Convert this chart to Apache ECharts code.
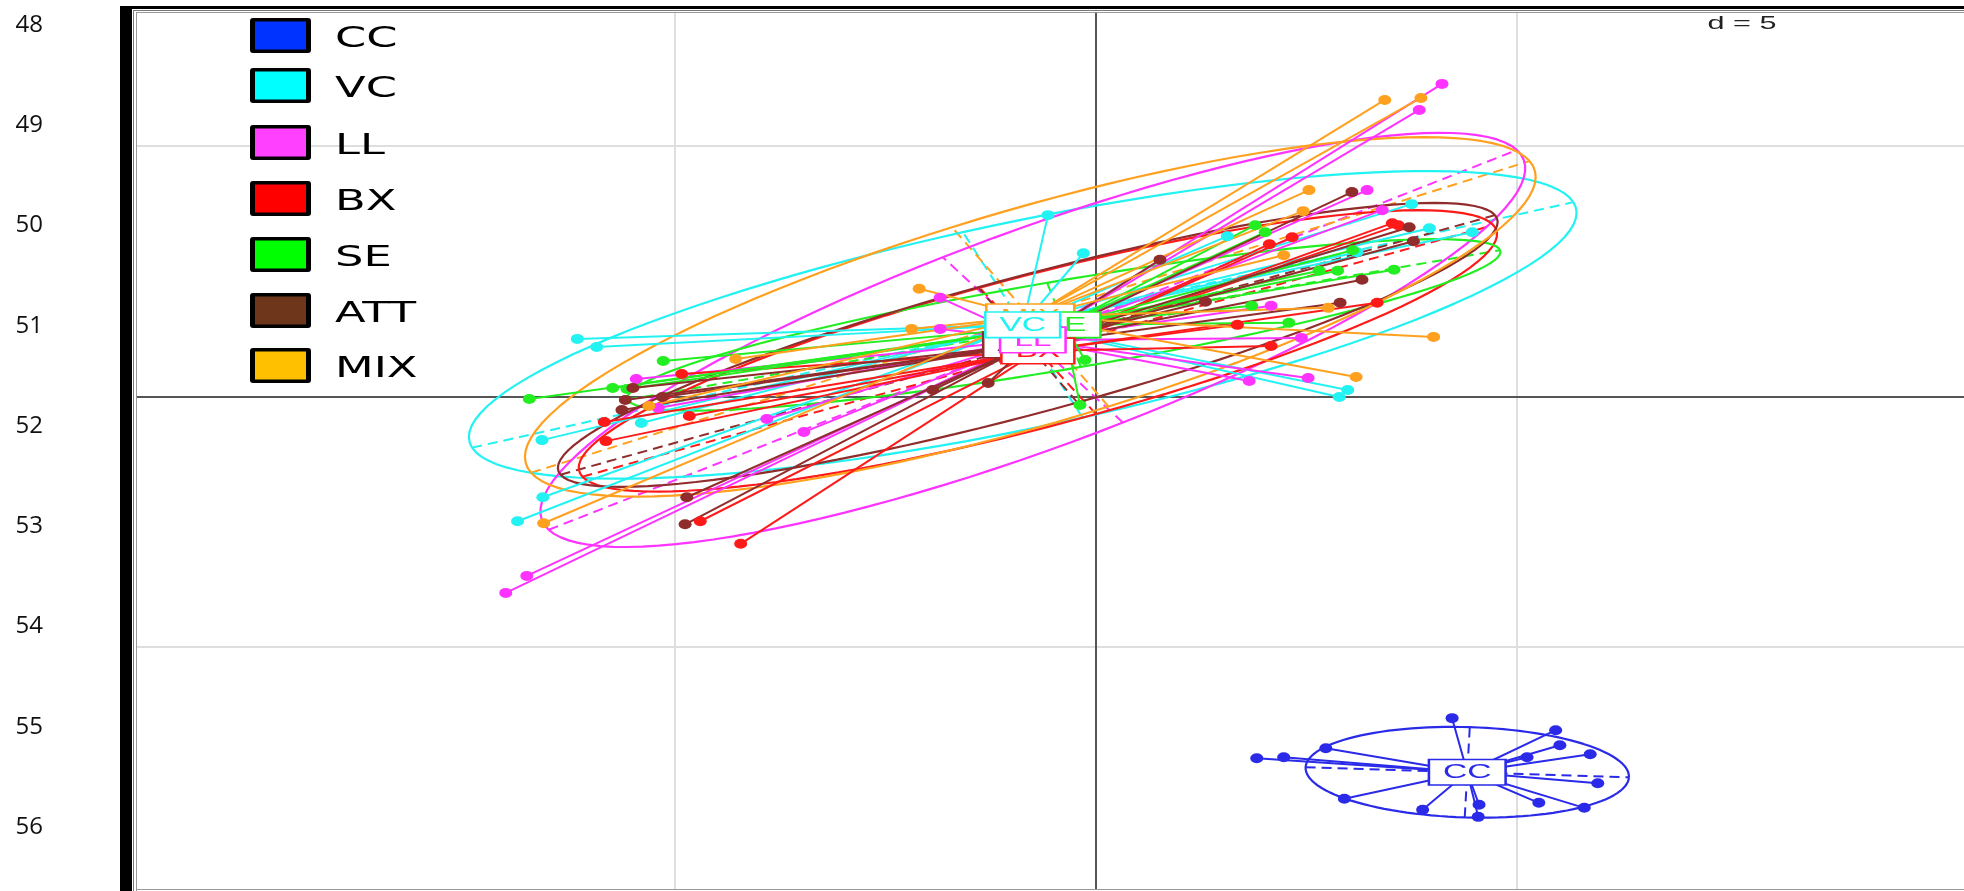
<!DOCTYPE html>
<html>
<head>
<meta charset="utf-8">
<script src="https://cdn.jsdelivr.net/npm/echarts@6/dist/echarts.min.js"></script>
<style>
  html, body { margin: 0; padding: 0; background: #ffffff; }
  #chart { width: 1964px; height: 891px; }
</style>
</head>
<body>
<div id="chart"></div>
<script>
// Group names, in legend order
const groupNames = ['CC', 'VC', 'LL', 'BX', 'SE', 'ATT', 'MIX'];
const legendColors = ['#0033ff', '#00ffff', '#ff40ff', '#ff0000', '#00ff00', '#6e361a', '#ffc000'];
const plotColors = ['#2a2ae8', '#22f2f2', '#ff33ff', '#ff1a1a', '#22ee22', '#902c2c', '#ffa01e'];

// Individual scores on the two factorial axes, one list per group
const ccPts = [[1.91,-7.22],[2.23,-7.20],[2.73,-7.02],[2.95,-8.03],[3.88,-8.25],[4.23,-6.42],[4.55,-8.15],[4.54,-8.39],[5.12,-7.20],[5.46,-6.66],[5.51,-6.96],[5.87,-7.14],[5.96,-7.72],[5.26,-8.11],[5.80,-8.21]];
const vcPts = [[3.75,3.84],[3.96,3.36],[4.47,3.28],[1.56,3.20],[3.10,2.88],[2.99,0.13],[2.89,-0.01],[-0.57,3.62],[-0.15,2.86],[-6.16,1.15],[-5.93,0.99],[-5.40,-0.53],[-6.58,-0.87],[-6.57,-2.01],[-6.87,-2.49]];
const llPts = [[4.11,6.24],[3.84,5.72],[3.22,4.12],[3.40,3.72],[2.08,1.81],[2.44,1.17],[1.82,0.31],[2.52,0.37],[-1.85,1.97],[-1.85,1.35],[-5.46,0.35],[-5.20,-0.23],[-3.91,-0.45],[-3.47,-0.71],[-6.76,-3.58],[-7.01,-3.92]];
const bxPts = [[3.52,3.46],[3.59,3.42],[2.06,3.04],[2.33,3.18],[3.34,1.87],[1.68,1.43],[2.08,1.01],[-4.92,0.45],[-4.83,-0.39],[-5.84,-0.51],[-5.82,-0.89],[-4.70,-2.49],[-4.22,-2.94]];
const sePts = [[1.89,3.42],[2.01,3.28],[3.05,2.92],[2.65,2.51],[2.87,2.51],[3.54,2.53],[1.85,1.81],[2.29,1.47],[-0.13,0.73],[-0.19,-0.17],[-5.14,0.71],[-5.74,0.17],[-5.57,0.15],[-6.73,-0.05]];
const attPts = [[3.04,4.08],[3.72,3.38],[3.77,3.10],[3.16,2.33],[2.90,1.87],[1.30,1.89],[0.76,2.73],[-1.94,0.13],[-1.28,0.27],[-5.50,0.17],[-5.59,-0.07],[-5.15,-0.01],[-5.63,-0.27],[-4.86,-2.01],[-4.88,-2.55]];
const mixPts = [[3.43,5.92],[3.86,5.96],[2.53,4.12],[2.46,3.70],[2.23,2.82],[2.76,1.77],[4.01,1.19],[3.09,0.39],[-2.10,2.15],[-2.19,1.35],[-4.28,0.75],[-5.31,-0.19],[-6.56,-2.53]];
const groupPoints = [ccPts, vcPts, llPts, bxPts, sePts, attPts, mixPts];

// Group centres (class means)
const centers = [[4.41,-7.50],[-0.87,1.43],[-0.75,1.13],[-0.69,0.91],[-0.38,1.43],[-0.81,1.03],[-0.78,1.59]];
// Ends of the first and second ellipse axes
const axis1Ends = [[6.33,-7.60],[5.67,3.88],[5.00,4.92],[4.72,3.42],[4.80,2.92],[4.74,3.62],[5.15,4.70]];
const axis2Ends = [[4.44,-6.60],[-1.58,3.28],[-1.82,2.78],[-1.38,2.17],[-0.58,2.27],[-1.40,2.18],[-1.71,3.38]];

// Grid positions of the factorial map (d = 5)
const gridTicks = [-5, 0, 5];
const gridStep = 5;
// Side scale
const sideTicks = [48, 49, 50, 51, 52, 53, 54, 55, 56];

const X_MIN = -11.39, X_MAX = 10.31, Y_MIN = -9.83, Y_MAX = 7.675;
const STRETCH = 1.6;
// vertical placement of the legend rows
const legendTops = [18, 68, 125, 181, 237, 293, 348];

function ellipsePath(c, a1, a2) {
  const u = [a1[0] - c[0], a1[1] - c[1]];
  const v = [a2[0] - c[0], a2[1] - c[1]];
  const out = [];
  for (let k = 0; k <= 120; k++) {
    const t = k / 120 * Math.PI * 2;
    out.push([c[0] + u[0] * Math.cos(t) + v[0] * Math.sin(t),
              c[1] + u[1] * Math.cos(t) + v[1] * Math.sin(t)]);
  }
  return out;
}

const series = [];

// light grid lines
series.push({
  type: 'lines', coordinateSystem: 'cartesian2d', xAxisIndex: 0, yAxisIndex: 0,
  silent: true, z: 1, polyline: false,
  lineStyle: { color: '#dedede', width: 2, opacity: 1 },
  data: gridTicks.filter(v => v !== 0).flatMap(v => [
    { coords: [[v, Y_MIN], [v, Y_MAX]] },
    { coords: [[X_MIN, v], [X_MAX, v]] }
  ])
});
// origin axes
series.push({
  type: 'lines', coordinateSystem: 'cartesian2d', xAxisIndex: 0, yAxisIndex: 0,
  silent: true, z: 2,
  lineStyle: { color: '#555555', width: 2, opacity: 1 },
  data: [{ coords: [[0, Y_MIN], [0, Y_MAX]] }, { coords: [[X_MIN, 0], [X_MAX, 0]] }]
});

groupNames.forEach((name, i) => {
  const c = centers[i], a1 = axis1Ends[i], a2 = axis2Ends[i];
  const col = plotColors[i];
  // inertia ellipse
  series.push({
    type: 'line', name: name, xAxisIndex: 0, yAxisIndex: 0, silent: true, z: 3,
    data: ellipsePath(c, a1, a2), showSymbol: false, symbol: 'none',
    lineStyle: { color: col, width: 2.2 }
  });
  // ellipse axes (dashed)
  series.push({
    type: 'lines', coordinateSystem: 'cartesian2d', xAxisIndex: 0, yAxisIndex: 0,
    silent: true, z: 3,
    lineStyle: { color: col, width: 2, type: [10, 6], opacity: 1 },
    data: [
      { coords: [[2 * c[0] - a1[0], 2 * c[1] - a1[1]], a1] },
      { coords: [[2 * c[0] - a2[0], 2 * c[1] - a2[1]], a2] }
    ]
  });
  // star links from each individual to its centre
  series.push({
    type: 'lines', coordinateSystem: 'cartesian2d', xAxisIndex: 0, yAxisIndex: 0,
    silent: true, z: 4,
    lineStyle: { color: col, width: 2, opacity: 1 },
    data: groupPoints[i].map(p => ({ coords: [p, c] }))
  });
  // individuals
  series.push({
    type: 'scatter', name: name, xAxisIndex: 0, yAxisIndex: 0, silent: true, z: 5,
    symbol: 'circle', symbolSize: [13, 10],
    itemStyle: { color: col, opacity: 1 },
    data: groupPoints[i]
  });
});

// class labels at the centres; drawing order decides which box lies on top
const labelOrder = [0, 5, 6, 4, 3, 2, 1];
series.push({
  type: 'custom', xAxisIndex: 0, yAxisIndex: 0, silent: true, z: 10,
  data: labelOrder.map(i => [centers[i][0], centers[i][1], i]),
  renderItem: function (params, api) {
    const p = api.coord([api.value(0), api.value(1)]);
    const i = api.value(2);
    return {
      type: 'text', x: p[0], y: p[1], scaleX: STRETCH,
      style: {
        text: groupNames[i], fontSize: 21, fontFamily: 'Liberation Sans',
        fill: plotColors[i], align: 'center', verticalAlign: 'middle',
        textAlign: 'center', textVerticalAlign: 'middle',
        backgroundColor: '#ffffff', borderColor: plotColors[i], borderWidth: 1.6,
        padding: [2, 8, 1, 8]
      }
    };
  }
});

// frame, legend and scale note
const graphics = [
  { type: 'rect', shape: { x: 120, y: 6, width: 12, height: 885 }, style: { fill: '#000' }, z: 100 },
  { type: 'rect', shape: { x: 120, y: 6, width: 1844, height: 3 }, style: { fill: '#000' }, z: 100 },
  { type: 'rect', shape: { x: 133, y: 10, width: 1, height: 881 }, style: { fill: '#777' }, z: 100 },
  { type: 'rect', shape: { x: 136, y: 12, width: 1, height: 879 }, style: { fill: '#999' }, z: 100 },
  { type: 'rect', shape: { x: 133, y: 10, width: 1831, height: 1 }, style: { fill: '#777' }, z: 100 },
  { type: 'rect', shape: { x: 136, y: 12, width: 1828, height: 1 }, style: { fill: '#999' }, z: 100 },
  { type: 'rect', shape: { x: 136, y: 889, width: 1828, height: 1 }, style: { fill: '#999' }, z: 100 },
  {
    type: 'text', x: 1742, y: 24, scaleX: 1.7, z: 100,
    style: { text: 'd = ' + gridStep, fontSize: 18, fontFamily: 'Liberation Sans', fill: '#222',
             align: 'center', verticalAlign: 'middle', textAlign: 'center', textVerticalAlign: 'middle' }
  }
];
groupNames.forEach((name, i) => {
  const top = legendTops[i];
  graphics.push({ type: 'rect', shape: { x: 250, y: top, width: 61, height: 35, r: 3 }, style: { fill: '#000' }, z: 100 });
  graphics.push({ type: 'rect', shape: { x: 255, y: top + 3.5, width: 51, height: 28 }, style: { fill: legendColors[i] }, z: 101 });
  graphics.push({
    type: 'text', x: 335, y: top + 22, scaleX: 1.6, z: 101,
    style: { text: name, fontSize: 28, fontFamily: 'DejaVu Sans', fill: '#000',
             align: 'left', verticalAlign: 'middle', textAlign: 'left', textVerticalAlign: 'middle' }
  });
});

const option = {
  animation: false,
  backgroundColor: '#ffffff',
  grid: [
    { left: 137, top: 12, width: 1827, height: 877, containLabel: false },
    { left: 44, top: 25, width: 10, height: 802, containLabel: false }
  ],
  xAxis: [
    { type: 'value', gridIndex: 0, min: X_MIN, max: X_MAX, show: false },
    { type: 'value', gridIndex: 1, min: 0, max: 1, show: false }
  ],
  yAxis: [
    { type: 'value', gridIndex: 0, min: Y_MIN, max: Y_MAX, show: false },
    {
      type: 'value', gridIndex: 1, min: sideTicks[0], max: sideTicks[sideTicks.length - 1],
      interval: 1, inverse: true, position: 'left',
      axisLine: { show: false }, axisTick: { show: false }, splitLine: { show: false },
      axisLabel: { fontSize: 24, fontFamily: 'Open Sans', color: '#111', margin: 1 }
    }
  ],
  series: series,
  graphic: { elements: graphics }
};

const chart = echarts.init(document.getElementById('chart'));
chart.setOption(option);
</script>
</body>
</html>
